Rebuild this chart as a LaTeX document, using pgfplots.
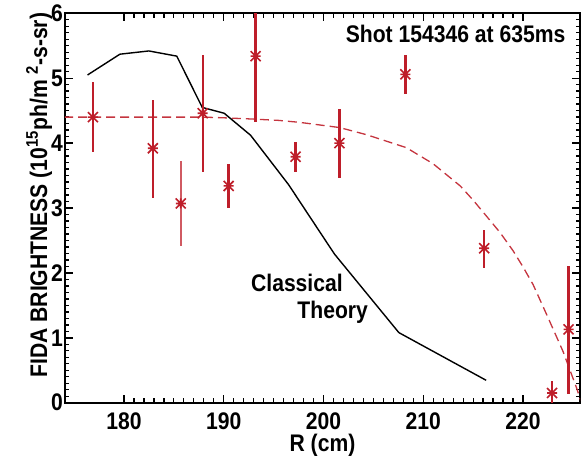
\documentclass[border=0pt]{standalone}
\usepackage{fontspec}
\setmainfont{Liberation Sans}[FakeStretch=0.88]
\usepackage{pgfplots}
\pgfplotsset{compat=1.18}
\definecolor{fidared}{RGB}{190,30,42}
\definecolor{fidalight}{RGB}{208,90,98}
\pgfdeclareplotmark{idlast}{%
  \pgfpathmoveto{\pgfqpoint{-\pgfplotmarksize}{0pt}}%
  \pgfpathlineto{\pgfqpoint{\pgfplotmarksize}{0pt}}%
  \pgfpathmoveto{\pgfqpoint{0pt}{-\pgfplotmarksize}}%
  \pgfpathlineto{\pgfqpoint{0pt}{\pgfplotmarksize}}%
  \pgfpathmoveto{\pgfqpoint{-\pgfplotmarksize}{-\pgfplotmarksize}}%
  \pgfpathlineto{\pgfqpoint{\pgfplotmarksize}{\pgfplotmarksize}}%
  \pgfpathmoveto{\pgfqpoint{-\pgfplotmarksize}{\pgfplotmarksize}}%
  \pgfpathlineto{\pgfqpoint{\pgfplotmarksize}{-\pgfplotmarksize}}%
  \pgfusepathqstroke}
\begin{document}
\fontsize{24}{28}\selectfont\bfseries
\begin{tikzpicture}
\begin{axis}[
  scale only axis, width=515pt, height=389.4pt,
  xmin=174.1, xmax=225.7, ymin=0, ymax=6,
  xtick={180,190,200,210,220}, ytick={0,1,2,3,4,5,6},
  minor x tick num=9, minor y tick num=9,
  tick align=inside,
  major tick length=8pt, minor tick length=4.5pt,
  axis line style={line width=2pt},
  every tick/.style={black, line width=1.4pt},
  /pgf/number format/assume math mode=true,
  /pgf/number format/1000 sep={},
  xticklabel style={inner ysep=0pt, yshift=-10pt},
  yticklabel style={inner xsep=2pt},
  xlabel={R (cm)},
  ylabel={FIDA BRIGHTNESS (10\textsuperscript{15}ph/m \textsuperscript{2}-s-sr)},
  xlabel style={at={(axis description cs:0.5,0)}, anchor=base, yshift=-48.5pt, inner sep=0pt},
  ylabel style={at={(axis description cs:-0.0349,0.533)}, anchor=base, inner sep=0pt},
  clip=true,
]
% classical theory
\addplot[black, line width=1.4pt] coordinates {
 (176.36,5.05) (179.6,5.37) (182.5,5.42) (185.3,5.34) (187.85,4.55)
 (190.05,4.46) (192.7,4.12) (196.5,3.36) (201.1,2.29) (207.55,1.08) (216.3,0.345)};
% dashed profile
\addplot[fidared!90!white, line width=1.3pt, dash pattern=on 9pt off 5pt] coordinates {
 (174,4.40) (180,4.40) (185,4.40) (188,4.40) (190,4.39) (193,4.37) (195.5,4.35)
 (197.6,4.32) (201.6,4.24) (204.3,4.13) (208.3,3.93) (211,3.68) (213.7,3.34)
 (215,3.12) (216.3,2.88) (217.7,2.62) (219,2.34) (220,2.09) (221,1.82) (222.5,1.31)
 (224,0.79) (225.35,0.23) (225.8,0.02)};
% data with error bars
\addplot[fidared, only marks, mark=idlast, mark size=5pt,
  mark options={line width=1.6pt},
  error bars/.cd, y dir=both, y explicit, error mark=none,
  error bar style={line width=2.4pt, fidared}] coordinates {
 (176.9,4.40) += (0,0.54) -= (0,0.54)
 (182.9,3.92) += (0,0.75) -= (0,0.77)
 (187.9,4.46) += (0,0.89) -= (0,0.91)
 (190.5,3.34) += (0,0.34) -= (0,0.34)
 (193.2,5.34) += (0,0.80) -= (0,1.02)
 (197.2,3.79) += (0,0.22) -= (0,0.24)
 (201.6,4.00) += (0,0.52) -= (0,0.53)
 (208.2,5.06) += (0,0.29) -= (0,0.31)
 (216.1,2.38) += (0,0.28) -= (0,0.31)
 (222.9,0.15) += (0,0.19) -= (0,0.20)
 (224.55,1.13) += (0,0.98) -= (0,1.00)
};
\addplot[fidared, only marks, mark=idlast, mark size=5pt,
  mark options={line width=1.6pt},
  error bars/.cd, y dir=both, y explicit, error mark=none,
  error bar style={line width=1.7pt, fidalight}] coordinates {
 (185.7,3.07) += (0,0.65) -= (0,0.65)
};
\node[anchor=base west, inner sep=0pt] at (axis cs:192.73,1.72) {Classical};
\node[anchor=base west, inner sep=0pt] at (axis cs:197.37,1.29) {Theory};
\node[anchor=base east, inner sep=0pt] at (axis cs:224.25,5.545) {Shot 154346 at 635ms};
\end{axis}
\pgfresetboundingbox
\path[use as bounding box] (-65pt,-61.3pt) rectangle (516pt,402.7pt);
\end{tikzpicture}
\end{document}
